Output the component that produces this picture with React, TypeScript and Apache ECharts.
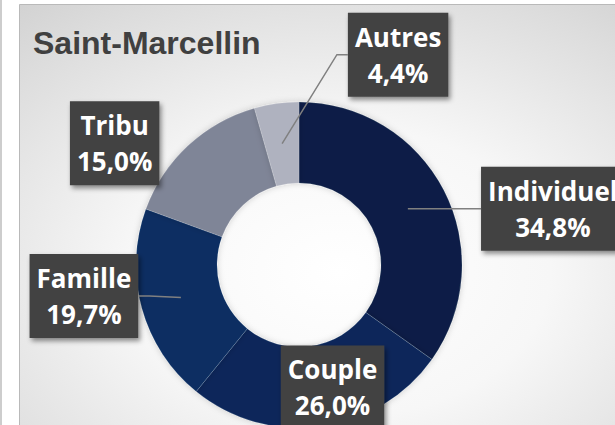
import React, { useEffect, useRef } from "react";
import * as echarts from "echarts";

const categories = ["Individuel", "Couple", "Famille", "Tribu", "Autres"];
const values = [34.8, 26.0, 19.7, 15.0, 4.4];
const sliceColors = ["#0b1f46", "#08265a", "#072d62", "#7f8597", "#afb2bf"];
const showLeader = [true, false, true, false, true];
// label box centre offset from the slice's mid-ring anchor
const labelOffsets: [number, number][] = [
  [145, 0],
  [17, 1],
  [-97, -1.5],
  [-101, -32],
  [116, -89],
];
const title = "Saint-Marcellin";

const W = 615;
const H = 425;
const CX = 299;
const CY = 265;
const R_IN = 82;
const R_OUT = 163;

export default function App() {
  const ref = useRef<HTMLDivElement>(null);
  useEffect(() => {
    if (!ref.current) return;
    const chart = echarts.init(ref.current, null, { renderer: "svg" });
    const total = values.reduce((a, b) => a + b, 0);
    const rMid = (R_IN + R_OUT) / 2;
    const fmt = (v: number) => v.toFixed(1).replace(".", ",") + "%";
    const widths: number[] = categories.map(() => 0);

    const anchorOf = (i: number) => {
      let cum = 0;
      for (let k = 0; k < i; k++) cum += values[k];
      const mid = ((cum + values[i] / 2) / total) * Math.PI * 2;
      return [CX + rMid * Math.sin(mid), CY - rMid * Math.cos(mid)];
    };

    chart.setOption({
      animation: false,
      backgroundColor: "#ffffff",
      series: [
        {
          type: "pie",
          center: [CX, CY],
          radius: [R_IN, R_OUT],
          startAngle: 90,
          clockwise: true,
          avoidLabelOverlap: false,
          itemStyle: {
            borderColor: "rgba(255,255,255,0.25)",
            borderWidth: 0.6,
            shadowBlur: 6,
            shadowColor: "rgba(0,0,0,0.18)",
          },
          emphasis: { disabled: true },
          label: {
            show: true,
            position: "outside",
            formatter: (p: any) => p.name + "\n" + fmt(p.value),
            color: "#ffffff",
            fontFamily: "'Open Sans', sans-serif",
            fontWeight: "bold",
            fontSize: 26,
            lineHeight: 36,
            align: "center",
            backgroundColor: "#424242",
            padding: [6, 7],
            shadowColor: "rgba(0,0,0,0.45)",
            shadowBlur: 5,
            shadowOffsetX: 2,
            shadowOffsetY: 3,
          },
          labelLine: { show: false },
          labelLayout: (p: any) => {
            const i = p.dataIndex;
            const [ax, ay] = anchorOf(i);
            const [dx, dy] = labelOffsets[i];
            widths[i] = p.labelRect.width;
            return {
              x: ax + dx,
              y: ay + dy,
              align: "center",
              verticalAlign: "middle",
            };
          },
          data: categories.map((name, i) => ({
            name,
            value: values[i],
            itemStyle: { color: sliceColors[i] },
          })),
        },
      ],
    });

    const leaders: any[] = [];
    categories.forEach((_, i) => {
      if (!showLeader[i]) return;
      const [ax, ay] = anchorOf(i);
      const [dx, dy] = labelOffsets[i];
      const x = ax + dx;
      const y = ay + dy;
      const w = widths[i] || 100;
      const edgeX = dx > 0 ? x - w / 2 : x + w / 2;
      const elbowX = edgeX - Math.sign(dx) * 11;
      leaders.push({
        type: "polyline",
        z: 10,
        silent: true,
        shape: {
          points: [
            [ax, ay],
            [elbowX, y],
            [edgeX, y],
          ],
        },
        style: { stroke: "#808080", lineWidth: 1.5, fill: null },
      });
    });

    chart.setOption({
      graphic: [
        {
          type: "rect",
          z: -10,
          silent: true,
          shape: { x: 0, y: 0, width: 2, height: H },
          style: { fill: "#cdcdcd" },
        },
        {
          type: "rect",
          z: -10,
          silent: true,
          shape: { x: 19.5, y: 4.5, width: W, height: H },
          style: {
            fill: new echarts.graphic.RadialGradient(0.52, 0.63, 0.98, [
              { offset: 0, color: "#ffffff" },
              { offset: 0.35, color: "#f7f7f7" },
              { offset: 0.7, color: "#dddddd" },
              { offset: 1, color: "#c5c5c5" },
            ]),
            stroke: "#b9b9b9",
            lineWidth: 1,
          },
        },
        {
          type: "text",
          left: 33,
          top: 27,
          style: {
            text: title,
            fill: "#404040",
            font: "bold 32px 'Liberation Sans', Arial, sans-serif",
          },
        },
        ...leaders,
      ],
    });
    return () => chart.dispose();
  }, []);
  return (
    <div
      ref={ref}
      style={{ position: "fixed", left: 0, top: 0, width: W, height: H }}
    />
  );
}
